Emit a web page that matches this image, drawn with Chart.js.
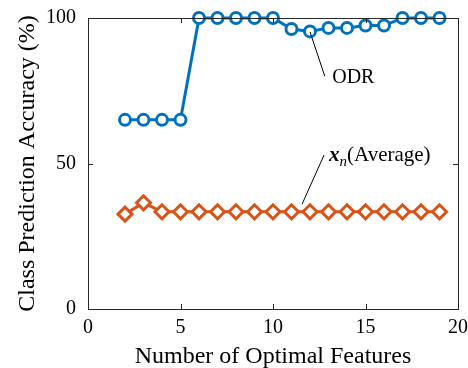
<!DOCTYPE html>
<html>
<head>
<meta charset="utf-8">
<script src="https://cdn.jsdelivr.net/npm/chart.js@4.4.0/dist/chart.umd.min.js"></script>
<style>
  html, body { margin: 0; padding: 0; background: #fff; }
  #wrap { width: 468px; height: 368px; }
</style>
</head>
<body>
<div id="wrap"><canvas id="myChart" width="468" height="368"></canvas></div>
<script>
  const features = [2, 3, 4, 5, 6, 7, 8, 9, 10, 11, 12, 13, 14, 15, 16, 17, 18, 19];
  const odr = [65, 65, 65, 65, 100, 100, 100, 100, 100, 96.2, 95.4, 96.6, 96.6, 97.4, 97.4, 100, 100, 100];
  const average = [32.6, 36.5, 33.4, 33.4, 33.4, 33.4, 33.4, 33.4, 33.4, 33.4, 33.4, 33.4, 33.4, 33.4, 33.4, 33.4, 33.4, 33.4];
  const xTicks = [0, 5, 10, 15, 20];
  const yTicks = [0, 50, 100];

  const serif = '"Liberation Serif", "Times New Roman", serif';

  // box round the plot + ticks pointing inwards, like matlab
  const boxPlugin = {
    id: 'box',
    afterDraw(chart) {
      const ctx = chart.ctx;
      const a = chart.chartArea;
      const xs = chart.scales.x, ys = chart.scales.y;
      ctx.save();
      ctx.strokeStyle = '#262626';
      ctx.lineWidth = 1;
      ctx.strokeRect(a.left + 0.5, a.top + 0.5, a.right - a.left, a.bottom - a.top);
      const len = 5;
      ctx.beginPath();
      xTicks.forEach(v => {
        const px = Math.round(xs.getPixelForValue(v)) + 0.5;
        ctx.moveTo(px, a.bottom); ctx.lineTo(px, a.bottom - len);
        ctx.moveTo(px, a.top); ctx.lineTo(px, a.top + len);
      });
      yTicks.forEach(v => {
        const py = Math.round(ys.getPixelForValue(v)) + 0.5;
        ctx.moveTo(a.left, py); ctx.lineTo(a.left + len, py);
        ctx.moveTo(a.right, py); ctx.lineTo(a.right - len, py);
      });
      ctx.stroke();

      // annotations
      ctx.strokeStyle = '#000';
      ctx.beginPath();
      ctx.moveTo(xs.getPixelForValue(12), ys.getPixelForValue(95.2));
      ctx.lineTo(xs.getPixelForValue(12.8), ys.getPixelForValue(80));
      ctx.moveTo(xs.getPixelForValue(11.57), ys.getPixelForValue(36));
      ctx.lineTo(xs.getPixelForValue(12.76), ys.getPixelForValue(52.9));
      ctx.stroke();

      ctx.fillStyle = '#000';
      ctx.textBaseline = 'middle';
      ctx.textAlign = 'left';
      ctx.font = '20px ' + serif;
      ctx.fillText('ODR', xs.getPixelForValue(13.2), ys.getPixelForValue(79.5));

      let tx = xs.getPixelForValue(13.03);
      const ty = ys.getPixelForValue(52.6);
      ctx.font = 'italic bold 21px ' + serif;
      ctx.fillText('x', tx, ty);
      tx += ctx.measureText('x').width;
      ctx.font = 'italic 15px ' + serif;
      ctx.fillText('n', tx, ty + 6);
      tx += ctx.measureText('n').width;
      ctx.font = '21px ' + serif;
      ctx.fillText('(Average)', tx, ty);
      ctx.restore();
    }
  };

  const chartData = {
    datasets: [
      {
        label: 'ODR',
        data: features.map((f, i) => ({ x: f, y: odr[i] })),
        borderColor: '#0072BD',
        backgroundColor: '#fff',
        borderWidth: 3,
        pointStyle: 'circle',
        pointRadius: 5.5,
        pointBorderWidth: 3,
        tension: 0,
        clip: false
      },
      {
        label: 'Average',
        data: features.map((f, i) => ({ x: f, y: average[i] })),
        borderColor: '#D95319',
        backgroundColor: '#fff',
        borderWidth: 3,
        pointStyle: 'rectRot',
        pointRadius: 7,
        pointBorderWidth: 3,
        tension: 0,
        clip: false
      }
    ]
  };

  const config = {
    type: 'line',
    data: chartData,
    options: {
      responsive: false,
      animation: false,
      layout: { padding: 0 },
      plugins: { legend: { display: false }, tooltip: { enabled: false } },
      scales: {
        x: {
          type: 'linear',
          min: 0, max: 20,
          afterBuildTicks: s => { s.ticks = xTicks.map(v => ({ value: v })); },
          afterFit: s => { s.height = 59; s.paddingLeft = 0; s.paddingRight = 10; },
          grid: { display: false, drawTicks: false },
          border: { display: false },
          ticks: { color: '#000', font: { family: serif, size: 20 }, padding: 7, maxRotation: 0 },
          title: { display: true, text: 'Number of Optimal Features', color: '#000', font: { family: serif, size: 24 }, padding: { top: 0, bottom: -3 } }
        },
        y: {
          min: 0, max: 100,
          afterBuildTicks: s => { s.ticks = yTicks.map(v => ({ value: v })); },
          afterFit: s => { s.width = 88; s.paddingTop = 18; s.paddingBottom = 0; },
          grid: { display: false, drawTicks: false },
          border: { display: false },
          ticks: { color: '#000', font: { family: serif, size: 20 }, padding: 12 },
          title: { display: true, text: 'Class Prediction Accuracy (%)', color: '#000', font: { family: serif, size: 24 }, padding: { top: 13, bottom: 0 } }
        }
      }
    },
    plugins: [boxPlugin]
  };

  const ctx = document.getElementById('myChart');
  const myChart = new Chart(ctx, config);
</script>
</body>
</html>
